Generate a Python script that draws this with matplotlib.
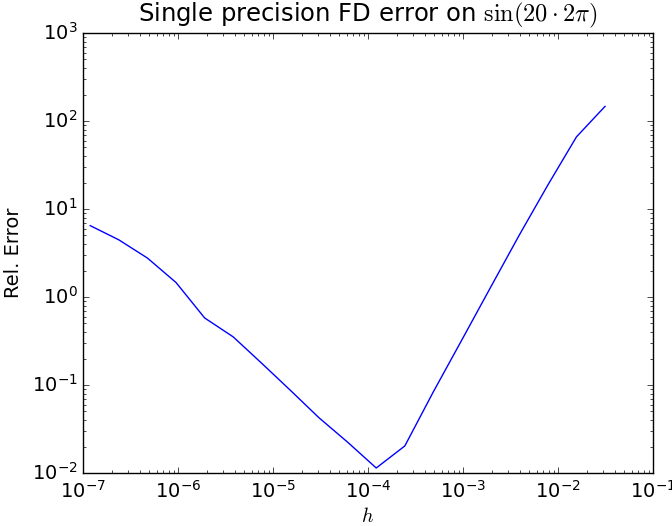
import numpy as np
import matplotlib
matplotlib.use("Agg")
import matplotlib.pyplot as plt

# step sizes h = 2^-k, k = 23..5
k_vals = np.arange(23, 4, -1)
h = 2.0 ** (-k_vals)

# relative error
rel_err = [6.47, 4.46, 2.77, 1.46, 0.578, 0.352, 0.176, 0.0869, 0.0424,
           0.0224, 0.0114, 0.0203, 0.084, 0.328, 1.29, 5.04, 18.7, 65.9, 146.6]

plt.style.use('classic')
plt.rcParams['axes.unicode_minus'] = False

fig = plt.figure(figsize=(6.72, 5.26), dpi=100)
ax = fig.add_axes([83 / 672, 1 - 473 / 526, 570 / 672, 440 / 526])
ax.loglog(h, rel_err, color='b', linewidth=1.0)
ax.set_xlim(1e-7, 1e-1)
ax.set_ylim(1e-2, 1e3)
ax.tick_params(labelsize=14)
ax.tick_params(axis='x', pad=5)
ax.set_title(r'Single precision FD error on $\sin(20\cdot2\pi)$', fontsize=17.5, pad=8)
ax.set_xlabel(r'$h$', fontsize=14.5, labelpad=4)
ax.set_ylabel('Rel. Error', fontsize=14, labelpad=6)

fig.savefig('out.png', dpi=100)
